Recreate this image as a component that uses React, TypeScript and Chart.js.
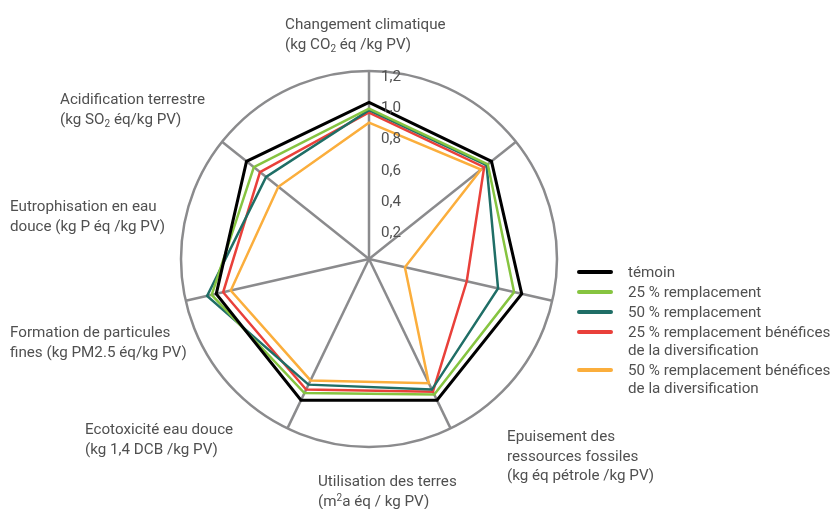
import React, { useEffect, useRef } from "react";
import { Chart, registerables } from "chart.js";

Chart.register(...registerables);

// Categories, clockwise from the top axis
const categories = [
  "Changement climatique",
  "Epuisement des ressources fossiles",
  "Utilisation des terres",
  "Ecotoxicité eau douce",
  "Formation de particules fines",
  "Eutrophisation en eau douce",
  "Acidification terrestre",
];

const temoin = [1, 1, 1, 1, 1, 1, 1];
const remplacement25 = [0.96, 0.97, 0.95, 0.96, 0.95, 1.03, 0.94];
const remplacement50 = [0.95, 0.96, 0.845, 0.925, 0.89, 1.06, 0.84];
const benefices25 = [0.935, 0.94, 0.64, 0.94, 0.925, 0.955, 0.89];
const benefices50 = [0.87, 0.915, 0.235, 0.88, 0.86, 0.905, 0.74];

const seriesNames = [
  "témoin",
  "25 % remplacement",
  "50 % remplacement",
  "25 % remplacement bénéfices de la diversification",
  "50 % remplacement bénéfices de la diversification",
];
const seriesLegendLines = [
  ["témoin"],
  ["25 % remplacement"],
  ["50 % remplacement"],
  ["25 % remplacement bénéfices", "de la diversification"],
  ["50 % remplacement bénéfices", "de la diversification"],
];
const seriesValues = [temoin, remplacement25, remplacement50, benefices25, benefices50];
const seriesColors = ["#000000", "#86c440", "#1f6e66", "#e9403a", "#fbae3c"];
const seriesWidths = [3, 2.5, 2.5, 2.5, 2.5];

const scaleMin = 0;
const scaleMax = 1.2;
const tickStep = 0.2;
const tickLabels = ["0", "0,2", "0,4", "0,6", "0,8", "1,0", "1,2"];

const GRAY = "#8b8b8d";
const TEXT = "#505050";
const FONT_SIZE = 15.2;

type AxisLabel = { left: number; top: number; lines: React.ReactNode[] };

const sub = (s: string) => (
  <span style={{ fontSize: 10, position: "relative", top: 3 }}>{s}</span>
);
const sup = (s: string) => (
  <span style={{ fontSize: 10, position: "relative", top: -5 }}>{s}</span>
);

const axisLabels: AxisLabel[] = [
  { left: 285, top: 15, lines: ["Changement climatique", <>(kg CO{sub("2")} éq /kg PV)</>] },
  { left: 507, top: 427, lines: ["Epuisement des", "ressources fossiles", "(kg éq pétrole /kg PV)"] },
  { left: 318, top: 472, lines: ["Utilisation des terres", <>(m{sup("2")}a éq / kg PV)</>] },
  { left: 85, top: 420, lines: ["Ecotoxicité eau douce", "(kg 1,4 DCB /kg PV)"] },
  { left: 10, top: 323, lines: ["Formation de particules", "fines (kg PM2.5 éq/kg PV)"] },
  { left: 10, top: 197, lines: ["Eutrophisation en eau", "douce (kg P éq /kg PV)"] },
  { left: 60, top: 90, lines: ["Acidification terrestre", <>(kg SO{sub("2")} éq/kg PV)</>] },
];

export default function App() {
  const ref = useRef<HTMLCanvasElement>(null);

  useEffect(() => {
    if (!ref.current) return;
    const tickLabelPlugin = {
      id: "tickLabelPlugin",
      afterDatasetsDraw(chart: any) {
        const s = chart.scales.r;
        const ctx = chart.ctx;
        ctx.save();
        ctx.font = `${FONT_SIZE}px Roboto`;
        ctx.fillStyle = TEXT;
        ctx.textAlign = "left";
        ctx.textBaseline = "middle";
        s.ticks.forEach((t: any, i: number) => {
          if (t.value <= scaleMin) return;
          const d = s.getDistanceFromCenterForValue(t.value);
          const label = tickLabels[i] ?? String(t.label);
          ctx.fillText(label, s.xCenter + 12, s.yCenter - d + 6);
        });
        ctx.restore();
      },
    };

    const chart = new Chart(ref.current, {
      type: "radar",
      data: {
        labels: categories,
        datasets: seriesNames.map((name, i) => ({
          label: name,
          data: seriesValues[i],
          borderColor: seriesColors[i],
          backgroundColor: seriesColors[i],
          borderWidth: seriesWidths[i],
          pointRadius: 0,
          pointHoverRadius: 0,
          fill: false,
          tension: 0,
          borderJoinStyle: "miter" as const,
        })),
      },
      options: {
        responsive: false,
        animation: false,
        layout: { padding: { left: 181, right: 278, top: 71, bottom: 62 } },
        plugins: {
          legend: { display: false },
          tooltip: { enabled: false },
        },
        scales: {
          r: {
            min: scaleMin,
            max: scaleMax,
            ticks: { display: false, stepSize: tickStep },
            pointLabels: { display: false },
            grid: {
              circular: true,
              lineWidth: 2.5,
              color: (ctx: any) =>
                ctx.tick && ctx.tick.value >= scaleMax - 1e-6 ? GRAY : "rgba(0,0,0,0)",
            },
            angleLines: { color: GRAY, lineWidth: 2.5 },
          },
        },
      },
      plugins: [tickLabelPlugin],
    });
    return () => chart.destroy();
  }, []);

  return (
    <div
      style={{
        position: "absolute",
        left: 0,
        top: 0,
        width: 835,
        height: 509,
        background: "#ffffff",
        fontFamily: "Roboto, sans-serif",
        fontSize: FONT_SIZE,
        color: TEXT,
        overflow: "hidden",
      }}
    >
      <canvas
        ref={ref}
        width={835}
        height={509}
        style={{ position: "absolute", left: 0, top: 0, width: 835, height: 509 }}
      />
      {axisLabels.map((a, i) => (
        <div
          key={i}
          style={{ position: "absolute", left: a.left, top: a.top, lineHeight: "19.5px", whiteSpace: "nowrap" }}
        >
          {a.lines.map((l, j) => (
            <div key={j}>{l}</div>
          ))}
        </div>
      ))}
      <div style={{ position: "absolute", left: 577, top: 263 }}>
        {seriesLegendLines.map((lines, i) => (
          <div key={i} style={{ display: "flex", alignItems: "flex-start", marginBottom: 2 }}>
            <div
              style={{
                width: 36,
                height: 4,
                borderRadius: 2,
                background: seriesColors[i],
                marginTop: 7,
                marginRight: 15,
                flex: "none",
              }}
            />
            <div style={{ lineHeight: "18px", whiteSpace: "nowrap" }}>
              {lines.map((l, j) => (
                <div key={j}>{l}</div>
              ))}
            </div>
          </div>
        ))}
      </div>
    </div>
  );
}
